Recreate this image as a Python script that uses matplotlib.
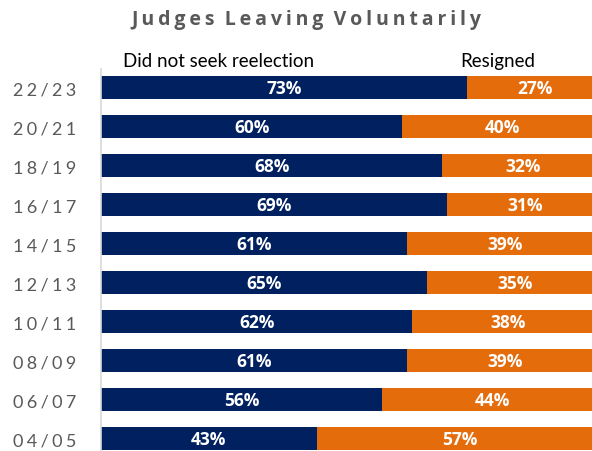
import matplotlib
matplotlib.use("Agg")
import matplotlib.pyplot as plt

plt.rcParams['font.family'] = ['Lato', 'DejaVu Sans']

periods = ["22/23", "20/21", "18/19", "16/17", "14/15",
           "12/13", "10/11", "08/09", "06/07", "04/05"]
not_seek = [73, 60, 68, 69, 61, 65, 62, 61, 56, 43]
resigned = [27, 40, 32, 31, 39, 35, 38, 39, 44, 57]

navy = "#002060"
orange = "#E46C0A"
gray = "#595959"
bold_family = ['Open Sans', 'DejaVu Sans']


def spaced(s, sep="\u2009"):
    return sep.join(s)


fig = plt.figure(figsize=(5.92, 4.52), dpi=100)
ax = fig.add_axes([101 / 592, 0.0, 502 / 592, (452 - 70) / 452])

pos = list(range(len(periods)))
h = 0.59
ax.barh(pos, not_seek, height=h, color=navy)
ax.barh(pos, resigned, left=not_seek, height=h, color=orange)

for p, a, b in zip(pos, not_seek, resigned):
    ax.text(a / 2, p, f"{a}%", ha="center", va="center", color="white",
            fontsize=12.5, fontweight="bold", family=bold_family)
    ax.text(a + b / 2, p, f"{b}%", ha="center", va="center", color="white",
            fontsize=12.5, fontweight="bold", family=bold_family)

ax.set_xlim(0, 100)
ax.set_ylim(9.31, -0.487)
ax.set_yticks(pos)
ax.set_yticklabels([spaced(p, "\u2009\u200a") for p in periods],
                   color=gray, fontsize=13)
ax.tick_params(axis="y", length=0, pad=18)
ax.set_xticks([])
for side in ["top", "right", "bottom"]:
    ax.spines[side].set_visible(False)
ax.spines["left"].set_color("#d9d9d9")
ax.spines["left"].set_linewidth(1.2)

fig.text(306 / 592, 1 - 20 / 452,
         "  ".join(spaced(w, "\u2009") for w in "Judges Leaving Voluntarily".split()),
         ha="center", va="center", color=gray, fontsize=14, fontweight="bold",
         family=bold_family)
fig.text(123 / 592, 1 - 67 / 452, "Did not seek reelection",
         ha="left", va="baseline", color="black", fontsize=13.5)
fig.text(498 / 592, 1 - 67 / 452, "Resigned",
         ha="center", va="baseline", color="black", fontsize=13.5)

fig.savefig("out.png", dpi=100)
